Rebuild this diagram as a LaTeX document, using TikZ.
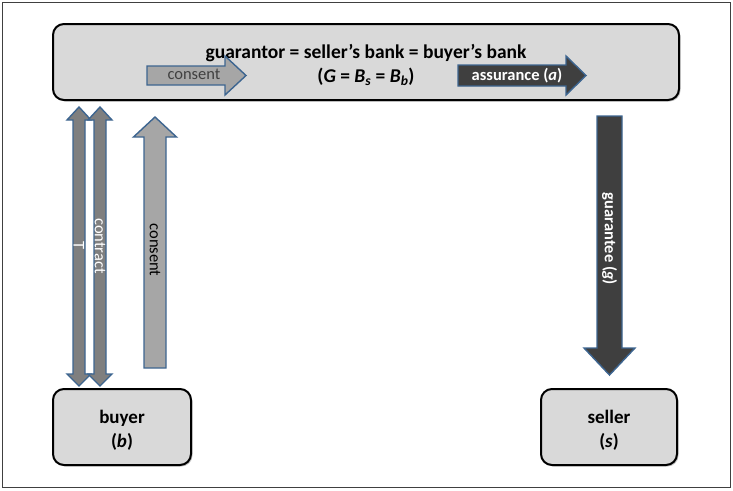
\documentclass[tikz,border=0pt]{standalone}
\usepackage{fontspec}
\setmainfont{Carlito}
\usetikzlibrary{shadows}
\definecolor{framegray}{HTML}{404040}
\definecolor{boxfill}{HTML}{D9D9D9}
\definecolor{arrowedge}{HTML}{3D6590}
\definecolor{midgray}{HTML}{7F7F7F}
\definecolor{lightgray}{HTML}{A6A6A6}
\definecolor{darkgray}{HTML}{3F3F3F}
\tikzset{
  party/.style={draw=black, line width=2pt, fill=boxfill, rounded corners=11pt,
    drop shadow={shadow xshift=1.5pt, shadow yshift=-1.5pt, opacity=0.45},
    align=center, font=\fontsize{19}{24}\selectfont\bfseries},
  blockarrow/.style={draw=arrowedge, line width=1.4pt, line join=miter},
  plainlabel/.style={font=\fontsize{16.5}{19}\selectfont, inner sep=0pt},
  boldlabel/.style={font=\fontsize{16.5}{19}\selectfont\bfseries, inner sep=0pt},
}
\begin{document}
\begin{tikzpicture}[x=1pt, y=-1pt]
\useasboundingbox (0,0) rectangle (733,490);
% outer frame
\draw[framegray, line width=1.2pt] (2.5,2.5) rectangle (730.5,487.5);

% the three parties
\node[party, minimum width=626pt, minimum height=76pt] (guar) at (366,62) {};
\node[party, minimum width=138pt, minimum height=76pt] (buyer) at (122,427) {};
\node[party, minimum width=136pt, minimum height=76pt] (seller) at (609,427) {};
\node[align=center, font=\fontsize{19}{24}\selectfont\bfseries, inner sep=0pt]
  (buyertext) at (122,430) {buyer\\(\textit{b})};
\node[align=center, font=\fontsize{19}{24}\selectfont\bfseries, inner sep=0pt]
  (sellertext) at (609,430) {seller\\(\textit{s})};

% guarantor heading
\node[font=\fontsize{19.5}{24}\selectfont\bfseries, inner sep=0pt] (gtitle) at (366,53)
  {guarantor = seller’s bank = buyer’s bank};
\node[font=\fontsize{19.5}{24}\selectfont\bfseries, inner sep=0pt] (gsym) at (366,77)
  {(\textit{G} = \textit{B}\textsubscript{\textit{s}} = \textit{B}\textsubscript{\textit{b}})};

% consent and assurance inside the guarantor
\draw[blockarrow, fill=lightgray] (147,66) -- (225,66) -- (225,56) -- (246,75.5)
  -- (225,95) -- (225,85) -- (147,85) -- cycle;
\node[plainlabel, text=framegray] (gconsent) at (194,74) {consent};
\draw[blockarrow, fill=darkgray] (458,65) -- (566,65) -- (566,56) -- (586,75.5)
  -- (566,95) -- (566,86) -- (458,86) -- cycle;
\node[boldlabel, text=white] (gassure) at (517,76) {assurance (\textit{a})};

% buyer side: contract pair and consent
\draw[blockarrow, fill=midgray] (73,120) -- (67,120) -- (79,107) -- (91,120) -- (85,120)
  -- (85,374) -- (91,374) -- (79,386) -- (67,374) -- (73,374) -- cycle;
\draw[blockarrow, fill=midgray] (94,120) -- (88,120) -- (100,107) -- (112,120) -- (106,120)
  -- (106,374) -- (112,374) -- (100,386) -- (88,374) -- (94,374) -- cycle;
\node[plainlabel, text=white, rotate=-90] (tlabel) at (79,246) {T};
\node[plainlabel, text=white, rotate=-90] (contract) at (100,246) {contract};
\draw[blockarrow, fill=lightgray] (144,368) -- (144,137) -- (133.5,137) -- (155,117)
  -- (176.5,137) -- (166,137) -- (166,368) -- cycle;
\node[plainlabel, text=black, rotate=-90] (bconsent) at (155,250) {consent};

% seller side: guarantee
\draw[blockarrow, fill=darkgray] (597,116) -- (622,116) -- (622,348) -- (635,348)
  -- (609.5,375) -- (584,348) -- (597,348) -- cycle;
\node[boldlabel, text=white, rotate=-90] (guarantee) at (609.5,239) {guarantee (\textit{g})};
\end{tikzpicture}
\end{document}
